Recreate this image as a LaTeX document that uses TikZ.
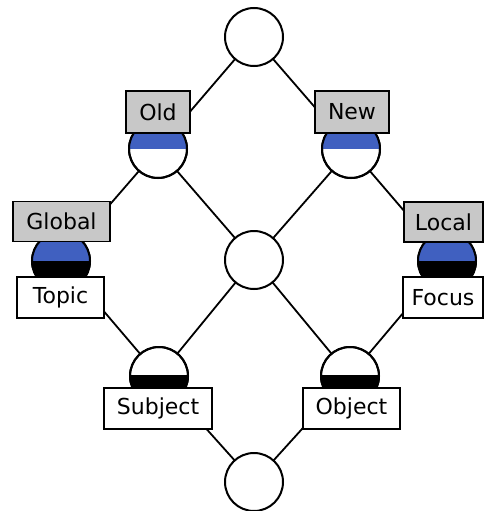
\documentclass[tikz,border=0pt]{standalone}
\usepackage{fontspec}
\setmainfont{DejaVu Sans}
\definecolor{bandblue}{RGB}{64,96,192}
\definecolor{boxgray}{RGB}{200,200,200}
\begin{document}
\begin{tikzpicture}[x=1pt,y=-1pt,
  lat/.style={circle, draw, fill=white, line width=2pt, minimum size=58pt, inner sep=0pt},
  tag/.style={rectangle, draw, line width=1.8pt, inner sep=0pt,
    font=\fontsize{22}{26}\selectfont},
  greytag/.style={tag, fill=boxgray},
  whitetag/.style={tag, fill=white},
  edge/.style={line width=1.8pt},
  rim/.style={line width=2pt}]
\useasboundingbox (0,0) rectangle (484,511);

% lattice points
\coordinate (ptop) at (254,37);
\coordinate (pold) at (158,149);
\coordinate (pnew) at (351,149);
\coordinate (pglob) at (61,261);
\coordinate (pmid) at (254,260);
\coordinate (ploc) at (447,261);
\coordinate (psubj) at (159,376);
\coordinate (pobj) at (350,376);
\coordinate (pbot) at (254,482);

% lattice edges
\draw[edge] (ptop) -- (pold);
\draw[edge] (ptop) -- (pnew);
\draw[edge] (pold) -- (pglob);
\draw[edge] (pold) -- (pmid);
\draw[edge] (pnew) -- (pmid);
\draw[edge] (pnew) -- (ploc);
\draw[edge] (pglob) -- (psubj);
\draw[edge] (pmid) -- (psubj);
\draw[edge] (pmid) -- (pobj);
\draw[edge] (ploc) -- (pobj);
\draw[edge] (psubj) -- (pbot);
\draw[edge] (pobj) -- (pbot);

% circles
\node[lat] (top) at (ptop) {};
\node[lat] (old) at (pold) {};
\node[lat] (new) at (pnew) {};
\node[lat] (glob) at (pglob) {};
\node[lat] (mid) at (pmid) {};
\node[lat] (loc) at (ploc) {};
\node[lat] (subj) at (psubj) {};
\node[lat] (obj) at (pobj) {};
\node[lat] (bot) at (pbot) {};

% coloured bands inside circles
\begin{scope}
  \clip (old) circle[radius=29pt];
  \fill[bandblue] (128,120) rectangle (190,149);
\end{scope}
\begin{scope}
  \clip (new) circle[radius=29pt];
  \fill[bandblue] (320,120) rectangle (382,149);
\end{scope}
\begin{scope}
  \clip (glob) circle[radius=29pt];
  \fill[bandblue] (30,230) rectangle (92,261);
  \fill[black] (30,261) rectangle (92,292);
\end{scope}
\begin{scope}
  \clip (loc) circle[radius=29pt];
  \fill[bandblue] (416,230) rectangle (478,261);
  \fill[black] (416,261) rectangle (478,292);
\end{scope}
\begin{scope}
  \clip (subj) circle[radius=29pt];
  \fill[black] (128,375) rectangle (190,405);
\end{scope}
\begin{scope}
  \clip (obj) circle[radius=29pt];
  \fill[black] (319,375) rectangle (381,405);
\end{scope}
\foreach \c in {old,new,glob,loc,subj,obj}
  \draw[rim] (\c) circle[radius=29pt];

% labels
\node[greytag, minimum width=64pt, minimum height=42pt] (lold) at (158,112) {Old};
\node[greytag, minimum width=74pt, minimum height=42pt] (lnew) at (352,112) {New};
\node[greytag, minimum width=97pt, minimum height=40pt] (lglob) at (61.5,221.5) {Global};
\node[greytag, minimum width=79pt, minimum height=40pt] (lloc) at (443.5,222) {Local};
\node[whitetag, minimum width=87pt, minimum height=41pt] (ltopic) at (60.5,297.5) {Topic};
\node[whitetag, minimum width=80pt, minimum height=41pt] (lfocus) at (443,297.5) {Focus};
\node[whitetag, minimum width=108pt, minimum height=41pt] (lsubj) at (158,408.5) {Subject};
\node[whitetag, minimum width=97pt, minimum height=41pt] (lobj) at (351.5,408.5) {Object};
\end{tikzpicture}
\end{document}
